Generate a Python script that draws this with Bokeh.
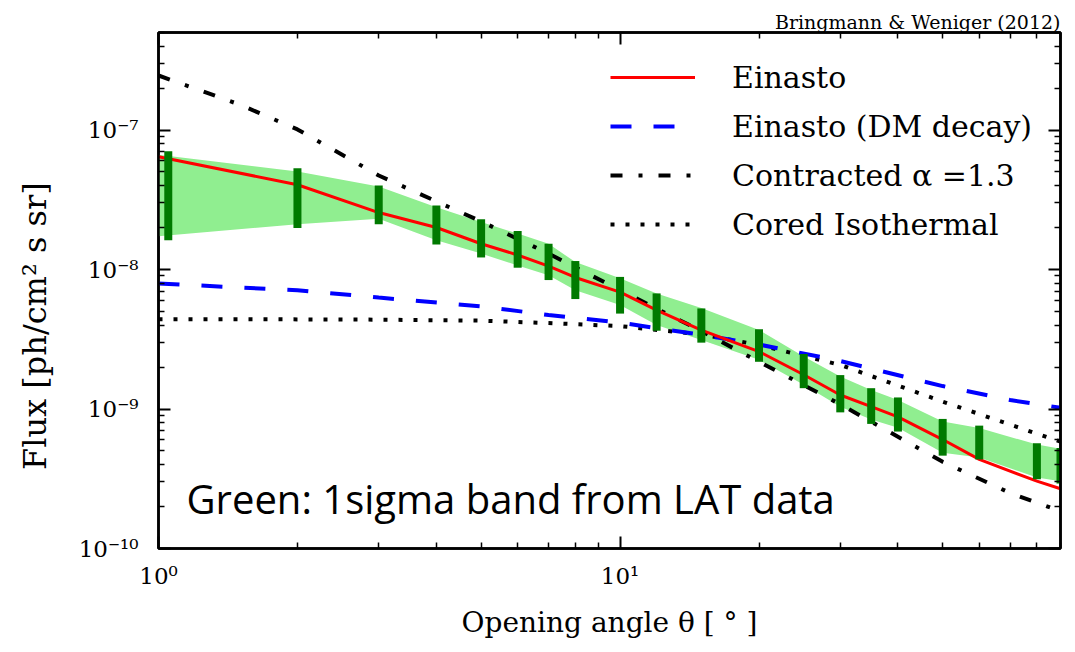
from bokeh.plotting import figure
from bokeh.models import (LogAxis, CustomJSTickFormatter, Label, Range1d,
                          FixedTicker, Legend, LegendItem)
from bokeh.embed import file_html
from bokeh.resources import INLINE

# ---------------- data ----------------
bin_theta = [1.05, 2, 3, 4, 5, 6, 7, 8, 10, 12, 15, 20, 25, 30, 35, 40, 50, 60, 80, 90]
bar_hi = [7.03e-8, 5.32e-8, 4.0e-8, 2.88e-8, 2.29e-8, 1.89e-8, 1.53e-8, 1.15e-8, 8.85e-9, 6.74e-9,
          5.26e-9, 3.73e-9, 2.48e-9, 1.75e-9, 1.41e-9, 1.21e-9, 8.49e-10, 7.6e-10, 5.68e-10, 5.26e-10]
bar_lo = [1.62e-8, 1.98e-8, 2.11e-8, 1.51e-8, 1.22e-8, 1.03e-8, 8.4e-9, 6.14e-9, 4.83e-9, 3.64e-9,
          2.99e-9, 2.18e-9, 1.41e-9, 9.46e-10, 7.82e-10, 6.89e-10, 4.63e-10, 4.35e-10, 3.13e-10, 2.92e-10]

band_theta = [1.0, 2, 3, 4, 5, 6, 7, 8, 10, 12, 15, 20, 25, 30, 35, 40, 50, 60, 80, 90]
band_hi = [6.66e-8, 5.04e-8, 3.93e-8, 2.8e-8, 2.19e-8, 1.81e-8, 1.53e-8, 1.13e-8, 8.67e-9, 6.74e-9,
           5.3e-9, 3.68e-9, 2.38e-9, 1.71e-9, 1.37e-9, 1.16e-9, 8.15e-10, 7.31e-10, 5.56e-10, 5.18e-10]
band_lo = [1.73e-8, 2.11e-8, 2.31e-8, 1.62e-8, 1.30e-8, 1.07e-8, 9.1e-9, 7.1e-9, 5.56e-9, 4.0e-9,
           3.12e-9, 2.25e-9, 1.49e-9, 1.04e-9, 8.4e-10, 7.35e-10, 4.85e-10, 4.49e-10, 3.23e-10, 3.04e-10]

einasto_theta = [1.0, 2, 3, 4, 5, 6, 7, 8, 10, 12, 15, 20, 25, 30, 35, 40, 50, 60, 80, 90]
einasto = [6.44e-8, 4.05e-8, 2.56e-8, 2.0e-8, 1.53e-8, 1.27e-8, 1.056e-8, 8.77e-9, 6.89e-9, 5.12e-9,
           3.68e-9, 2.58e-9, 1.76e-9, 1.26e-9, 1.04e-9, 8.77e-10, 6.04e-10, 4.35e-10, 3.04e-10, 2.68e-10]

model_theta = [1.0, 1.5, 2, 3, 5, 7, 10, 15, 20, 30, 50, 70, 90]
einasto_decay = [7.94e-9, 7.43e-9, 7.11e-9, 6.29e-9, 5.44e-9, 4.72e-9, 4.16e-9, 3.40e-9, 2.90e-9,
                 2.21e-9, 1.46e-9, 1.16e-9, 1.02e-9]
contracted = [2.46e-7, 1.52e-7, 1.01e-7, 4.72e-8, 2.21e-8, 1.30e-8, 7.11e-9, 3.62e-9, 2.18e-9,
              1.08e-9, 4.18e-10, 2.5e-10, 1.85e-10]
cored_iso = [4.40e-9, 4.40e-9, 4.39e-9, 4.37e-9, 4.30e-9, 4.13e-9, 3.93e-9, 3.42e-9, 2.88e-9,
             2.07e-9, 1.13e-9, 7.73e-10, 5.83e-10]

x_major = [1, 10, 100]
y_major = [1e-10, 1e-9, 1e-8, 1e-7, 1e-6]

legend_labels = ["Einasto", "Einasto (DM decay)", "Contracted \u03b1 =1.3", "Cored Isothermal"]
note_text = "Green: 1sigma band from LAT data"
credit_text = "Bringmann & Weniger (2012)"
x_title = "Opening angle \u03b8 [ \u00b0 ]"
y_title = "Flux [ph/cm\u00b2 s sr]"

# ---------------- figure ----------------
p = figure(width=1066, height=644, x_axis_type="log", y_axis_type="log",
           x_range=Range1d(1, 90), y_range=Range1d(1e-10, 5e-7),
           output_backend="svg", toolbar_location=None,
           min_border_left=158, min_border_right=6, min_border_top=32, min_border_bottom=96)
p.grid.visible = False
p.outline_line_color = "black"
p.outline_line_width = 2.5
p.background_fill_color = "white"

p.title.text = credit_text
p.title.align = "right"
p.title.text_font = "DejaVu Serif"
p.title.text_font_size = "19px"
p.title.text_font_style = "normal"
p.title.text_color = "black"
p.title.standoff = 0

x_minor = [m * 10 ** e for e in range(0, 2) for m in range(2, 10)]
y_minor = [m * 10.0 ** e for e in range(-10, -6) for m in range(2, 10)]

sup_code = """
const sup = {'-':'\u207b','0':'\u2070','1':'\u00b9','2':'\u00b2','3':'\u00b3','4':'\u2074',
             '5':'\u2075','6':'\u2076','7':'\u2077','8':'\u2078','9':'\u2079'};
const e = Math.round(Math.log10(tick));
return '10' + String(e).split('').map(c => sup[c]).join('');
"""
fmt = CustomJSTickFormatter(code=sup_code)
blank = CustomJSTickFormatter(code="return '';")


def style_axis(ax, labels=True):
    ax.axis_line_width = 2.5
    ax.axis_line_color = "black"
    ax.major_tick_line_color = "black"
    ax.minor_tick_line_color = "black"
    ax.major_tick_in = 12
    ax.major_tick_out = 0
    ax.minor_tick_in = 6
    ax.minor_tick_out = 0
    ax.major_tick_line_width = 2
    ax.minor_tick_line_width = 1.5
    if labels:
        ax.formatter = fmt
        ax.major_label_text_font = "DejaVu Serif"
        ax.major_label_text_font_size = "23px"
        ax.major_label_text_color = "black"
        ax.axis_label_text_font = "DejaVu Serif"
        ax.axis_label_text_font_style = "normal"
        ax.axis_label_text_color = "black"
    else:
        ax.formatter = blank
        ax.major_label_text_font_size = "0px"
        ax.major_label_standoff = 0


xt = FixedTicker(ticks=x_major, minor_ticks=x_minor)
yt = FixedTicker(ticks=y_major, minor_ticks=y_minor)

p.xaxis.ticker = xt
p.yaxis.ticker = yt
style_axis(p.xaxis[0])
style_axis(p.yaxis[0])
p.xaxis.axis_label = x_title
# trailing non-breaking spaces shift the rotated label's visible text downwards
p.yaxis.axis_label = y_title + "\u00a0" * 7
p.xaxis.axis_label_text_font_size = "28px"
p.yaxis.axis_label_text_font_size = "32px"
p.xaxis.major_label_standoff = 14
p.xaxis.axis_label_standoff = 14
p.yaxis.major_label_standoff = 20
p.yaxis.axis_label_standoff = 22

top_ax = LogAxis(ticker=FixedTicker(ticks=x_major, minor_ticks=x_minor))
right_ax = LogAxis(ticker=FixedTicker(ticks=y_major, minor_ticks=y_minor))
style_axis(top_ax, labels=False)
style_axis(right_ax, labels=False)
p.add_layout(top_ax, "above")
p.add_layout(right_ax, "right")

# ---------------- glyphs ----------------
p.varea(x=band_theta, y1=band_lo, y2=band_hi, fill_color="#90EE90", fill_alpha=1.0)

r_iso = p.line(model_theta, cored_iso, line_color="black", line_width=4, line_dash="4 11")
r_dec = p.line(model_theta, einasto_decay, line_color="#0000FF", line_width=4, line_dash="21 22")
r_con = p.line(model_theta, contracted, line_color="black", line_width=4, line_dash="12 16 4 16")
r_ein = p.line(einasto_theta, einasto, line_color="#FF0000", line_width=3)

p.segment(x0=bin_theta, y0=bar_lo, x1=bin_theta, y1=bar_hi, line_color="#007A00", line_width=8)

legend = Legend(items=[LegendItem(label=legend_labels[0], renderers=[r_ein]),
                       LegendItem(label=legend_labels[1], renderers=[r_dec]),
                       LegendItem(label=legend_labels[2], renderers=[r_con]),
                       LegendItem(label=legend_labels[3], renderers=[r_iso])],
                location=(452, 304))
legend.background_fill_alpha = 0
legend.border_line_alpha = 0
legend.padding = 0
legend.margin = 0
legend.spacing = 9
legend.glyph_width = 85
legend.glyph_height = 40
legend.label_height = 40
legend.label_standoff = 37
legend.label_text_font = "DejaVu Serif"
legend.label_text_font_size = "30px"
legend.label_text_color = "black"
p.add_layout(legend)

p.add_layout(Label(x=28, y=50, x_units="screen", y_units="screen", text=note_text,
                   text_font="Open Sans", text_font_size="40px", text_baseline="alphabetic",
                   text_color="black"))

open("out.html", "w").write(file_html(p, INLINE))
